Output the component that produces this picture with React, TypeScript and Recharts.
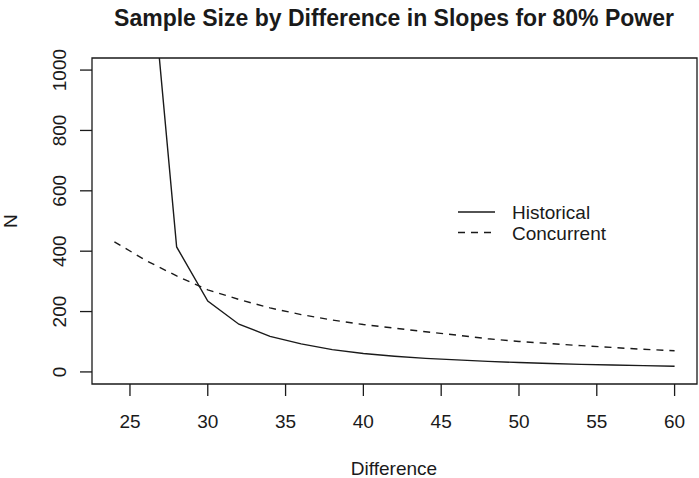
import React from 'react';
import {
  LineChart, Line, XAxis, YAxis, ReferenceArea, Customized,
} from 'recharts';

// Difference in slopes (x) and required sample size for each design
const differences = [24, 26, 28, 30, 32, 34, 36, 38, 40, 42, 44, 46, 48, 50, 52, 54, 56, 58, 60];
const historical = [null, 1540, 414, 235, 158, 118, 93, 74, 61, 52, 45, 40, 35, 31, 28, 25, 23, 21, 19];
const concurrent = [431, 370, 318, 272, 240, 212, 190, 172, 157, 145, 133, 122, 110, 101, 94, 87, 81, 75, 70];

const xTicks = [25, 30, 35, 40, 45, 50, 55, 60];
const yTicks = [0, 200, 400, 600, 800, 1000];

const data = differences.map((d, i) => ({
  diff: d,
  historical: historical[i],
  concurrent: concurrent[i],
}));

const FONT = '"Liberation Sans", Arial, Helvetica, sans-serif';
const INK = '#1a1a1a';

function XTick({ x, payload }: any) {
  return (
    <text x={x} y={428} textAnchor="middle" fontSize={19} fontFamily={FONT} fill={INK}>
      {payload.value}
    </text>
  );
}

function YTick({ y, payload }: any) {
  return (
    <text
      x={66.5}
      y={y}
      textAnchor="middle"
      fontSize={19}
      fontFamily={FONT}
      fill={INK}
      transform={`rotate(-90, 66.5, ${y})`}
    >
      {payload.value}
    </text>
  );
}

function Labels() {
  return (
    <g fontFamily={FONT} fill={INK}>
      <text x={394} y={26} textAnchor="middle" fontSize={23} fontWeight="bold">
        Sample Size by Difference in Slopes for 80% Power
      </text>
      <text x={394} y={475} textAnchor="middle" fontSize={19}>Difference</text>
      <text x={17} y={221} textAnchor="middle" fontSize={19} transform="rotate(-90, 17, 221)">N</text>

      {/* legend, no box */}
      <line x1={458} x2={495} y1={212} y2={212} stroke={INK} strokeWidth={1.4} />
      <text x={512} y={219} fontSize={19}>Historical</text>
      <line x1={458} x2={495} y1={232.5} y2={232.5} stroke={INK} strokeWidth={1.4} strokeDasharray="7 6" />
      <text x={512} y={239.5} fontSize={19}>Concurrent</text>
    </g>
  );
}

export default function App() {
  return (
    <div style={{ position: 'absolute', left: 0, top: 0, background: '#fff' }}>
      <LineChart
        width={699}
        height={478}
        data={data}
        margin={{ top: 58, right: 2, bottom: 64, left: 0 }}
      >
        <XAxis
          dataKey="diff"
          type="number"
          domain={[22.56, 61.44]}
          ticks={xTicks}
          allowDataOverflow
          axisLine={false}
          tickLine={{ stroke: INK, strokeWidth: 1.3 }}
          tickSize={12}
          height={30}
          tick={<XTick />}
          interval={0}
        />
        <YAxis
          type="number"
          domain={[-40, 1040]}
          ticks={yTicks}
          allowDataOverflow
          axisLine={false}
          tickLine={{ stroke: INK, strokeWidth: 1.3 }}
          tickSize={12}
          width={92}
          tick={<YTick />}
          interval={0}
        />
        <ReferenceArea
          x1={22.56}
          x2={61.44}
          y1={-40}
          y2={1040}
          fill="none"
          fillOpacity={0}
          stroke={INK}
          strokeWidth={1.3}
          ifOverflow="visible"
        />
        <Line
          dataKey="historical"
          stroke={INK}
          strokeWidth={1.4}
          dot={false}
          activeDot={false}
          connectNulls={false}
          isAnimationActive={false}
        />
        <Line
          dataKey="concurrent"
          stroke={INK}
          strokeWidth={1.4}
          strokeDasharray="7 6"
          dot={false}
          activeDot={false}
          isAnimationActive={false}
        />
        <Customized component={<Labels />} />
      </LineChart>
    </div>
  );
}
